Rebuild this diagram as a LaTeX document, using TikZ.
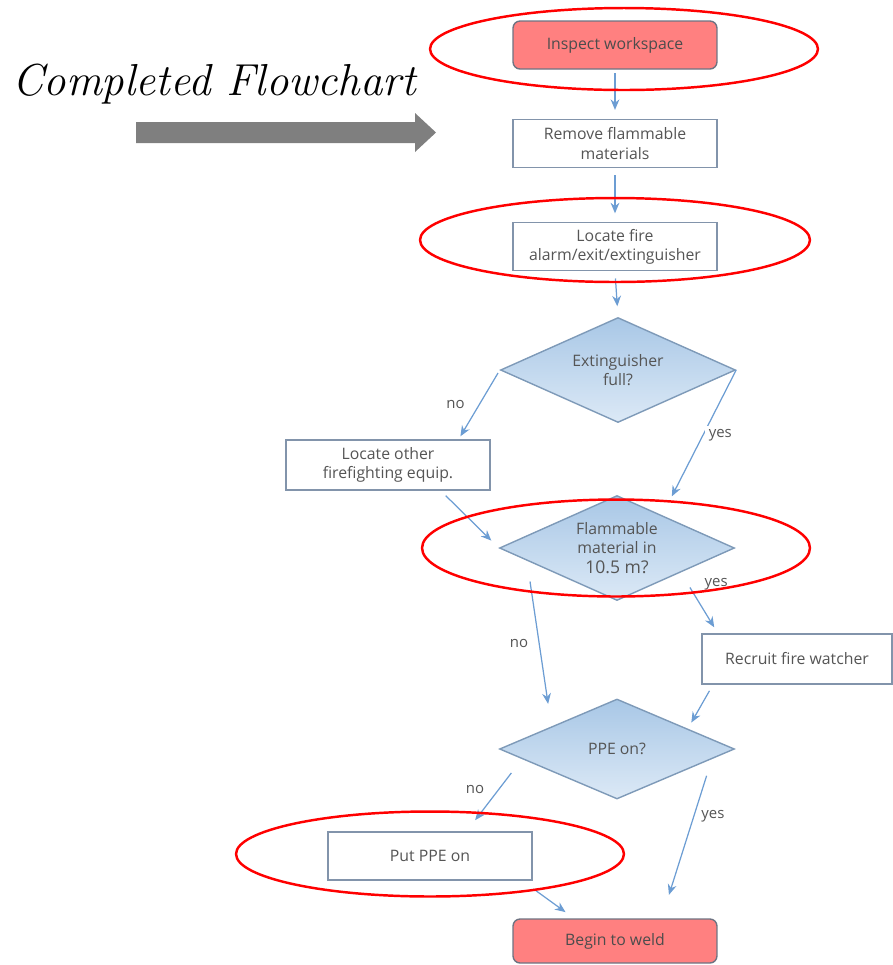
\documentclass[tikz,border=0pt]{standalone}
\usepackage{fontspec}
\usepackage{xcolor}
\usepackage{tikz}
\usetikzlibrary{shapes.geometric, arrows.meta, positioning}
\newfontfamily\chartfont{Open Sans}
\definecolor{boxline}{HTML}{8294AB}
\definecolor{redline}{HTML}{6E7382}
\definecolor{flowblue}{HTML}{6C9DD3}
\definecolor{startred}{HTML}{FF8080}
\definecolor{decline}{HTML}{7E9AB8}
\definecolor{dectop}{HTML}{A8C7E6}
\definecolor{decbottom}{HTML}{DCE9F6}
\definecolor{textgray}{HTML}{555555}
\definecolor{bigarrow}{HTML}{7F7F7F}
\tikzset{
  procbox/.style={
    rectangle, draw=boxline, line width=0.8pt, fill=white,
    minimum width=4.08cm, minimum height=0.96cm,
    align=center, inner sep=2pt,
    font=\chartfont\fontsize{9}{11}\selectfont, text=textgray
  },
  redbox/.style={procbox, rounded corners=4pt, fill=startred,
                 draw=redline, text=black!70},
  decbox/.style={
    diamond, aspect=2.24, draw=decline, line width=0.8pt,
    top color=dectop, bottom color=decbottom,
    minimum width=4.7cm, minimum height=2.1cm, inner sep=0pt,
    align=center, font=\chartfont\fontsize{9}{11}\selectfont, text=textgray
  },
  ring/.style={ellipse, draw=red, line width=1.4pt, inner sep=0pt},
  lbl/.style={fill=white, inner sep=2pt,
              font=\chartfont\fontsize{8.5}{10}\selectfont, text=textgray},
  arrow/.style={-{Stealth[length=6pt,width=5pt]}, line width=0.7pt, flowblue}
}
\begin{document}
\begin{tikzpicture}[x=0.02cm, y=-0.02cm]
  \useasboundingbox (0,0) rectangle (893,965);

  % title and pointer
  \node[font=\fontsize{25.5}{30}\selectfont\itshape] (title) at (214,84)
        {Completed Flowchart};
  \fill[bigarrow] (136,122) -- (415,122) -- (415,113) -- (436,132.5)
        -- (415,152) -- (415,143) -- (136,143) -- cycle;

  % main column
  \node[redbox]  (ws)     at (615,45)  {Inspect workspace};
  \node[procbox, below=0.98cm of ws]     (remove) {Remove flammable\\materials};
  \node[procbox, below=1.08cm of remove] (locate) {Locate fire\\alarm/exit/extinguisher};

  \node[decbox]  (full)   at (618,370) {Extinguisher\\full?};
  \node[procbox, minimum height=1.0cm] (other) at (388,465)
        {Locate other\\firefighting equip.};
  \node[decbox]  (flam)   at (617,548) {Flammable\\material in\\{\fontsize{10}{12}\selectfont 10.5 m?}};
  \node[procbox, minimum width=3.8cm, minimum height=1.0cm] (watch) at (797,659)
        {Recruit fire watcher};
  \node[decbox, minimum height=2.0cm] (ppe) at (617,749) {PPE on?};
  \node[procbox] (put)    at (430,856) {Put PPE on};
  \node[redbox, minimum height=0.88cm] (weld) at (615,941) {Begin to weld};

  % connectors
  \draw[arrow, shorten <=2pt, shorten >=5pt] (ws) -- (remove);
  \draw[arrow, shorten <=4pt, shorten >=5pt] (remove) -- (locate);
  \draw[arrow, shorten <=4pt, shorten >=6pt] (locate.south) -- (full.north);
  \draw[arrow, shorten <=2pt, shorten >=2pt] (full.west) -- (other.20)
        node[lbl, pos=0.5, left=6pt] (lno1) {no};
  \draw[arrow, shorten <=0pt, shorten >=12pt] (full.east) -- (flam.36)
        node[lbl, pos=0.45, right=1pt] (lyes1) {yes};
  \draw[arrow, shorten <=4pt, shorten >=6pt] (other.-26) -- (flam.west);
  \draw[arrow, shorten <=12pt, shorten >=13pt] (flam.188) -- (ppe.161)
        node[lbl, pos=0.5, left=4pt] (lno2) {no};
  \draw[arrow, shorten <=10pt, shorten >=4pt] (flam.-21) -- (watch.162)
        node[lbl, pos=0.2, right=7pt] (lyes2) {yes};
  \draw[arrow, shorten <=4pt, shorten >=4pt] (watch.197) -- (ppe.16);
  \draw[arrow, shorten <=10pt, shorten >=8pt] (ppe.186) -- (put.34)
        node[lbl, pos=0.42, left=6pt] (lno3) {no};
  \draw[arrow, shorten <=10pt, shorten >=14pt] (ppe.-6) -- (weld.26)
        node[lbl, pos=0.36, right=2pt] (lyes3) {yes};
  \draw[arrow, shorten <=8pt, shorten >=6pt] (put.-15) -- (weld.151);

  % highlight rings
  \node[ring, minimum width=7.76cm, minimum height=1.64cm] (ring1) at (624,49) {};
  \node[ring, minimum width=7.8cm, minimum height=1.68cm] (ring2) at (615,240) {};
  \node[ring, minimum width=7.76cm, minimum height=1.94cm] (ring3) at (616,548) {};
  \node[ring, minimum width=7.76cm, minimum height=1.70cm] (ring4) at (430,854) {};

\end{tikzpicture}
\end{document}
